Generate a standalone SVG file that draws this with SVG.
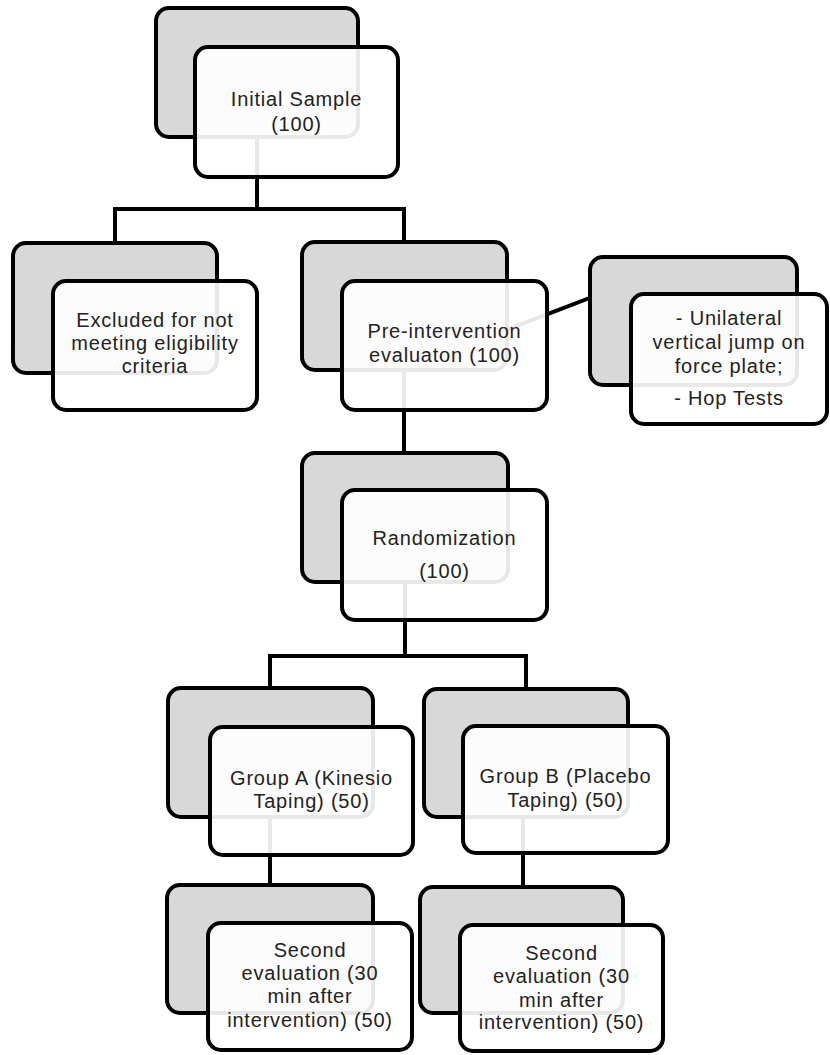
<svg xmlns="http://www.w3.org/2000/svg" width="830" height="1055" viewBox="0 0 830 1055">
<style>
.conn{fill:none;stroke:#000;stroke-width:4;stroke-linejoin:miter}
.back{fill:#d8d8d8;stroke:#000;stroke-width:4}
.front{fill:#fff;fill-opacity:0.91;stroke:#000;stroke-width:4}
text{font-family:"Liberation Sans",Arial,sans-serif;font-size:20px;fill:#222;text-anchor:middle;letter-spacing:0.8px}
</style>
<rect width="830" height="1055" fill="#fff"/>
<g id="connectors">
<path class="conn" d="M257,100 V209 M115,243 V209 H404 V242"/>
<path class="conn" d="M404,300 V453"/>
<path class="conn" d="M405,520 V656 M270,688 V656 H526 V689"/>
<path class="conn" d="M270,760 V885"/>
<path class="conn" d="M523,760 V887"/>
<path class="conn" d="M480,340 L600,294"/>
</g>
<g id="n1">
<rect class="back" x="156" y="8" width="202" height="129" rx="13"/>
<rect class="front" x="195" y="47" width="203" height="130" rx="13"/>
<text x="296.5" y="106">Initial Sample</text>
<text x="296.5" y="131">(100)</text>
</g>
<g id="n2">
<rect class="back" x="13" y="243" width="204" height="130" rx="13"/>
<rect class="front" x="53" y="281" width="204" height="129" rx="13"/>
<text x="155" y="327">Excluded for not</text>
<text x="155" y="350">meeting eligibility</text>
<text x="155" y="373">criteria</text>
</g>
<g id="n3">
<rect class="back" x="302" y="242" width="205" height="128" rx="13"/>
<rect class="front" x="342" y="281" width="205" height="129" rx="13"/>
<text x="444.5" y="338">Pre-intervention</text>
<text x="444.5" y="362">evaluaton (100)</text>
</g>
<g id="n4">
<rect class="back" x="590" y="257" width="207" height="128" rx="13"/>
<rect class="front" x="631" y="294" width="196" height="130" rx="13"/>
<text x="729" y="325">- Unilateral</text>
<text x="729" y="349">vertical jump on</text>
<text x="729" y="373">force plate;</text>
<text x="729" y="405">- Hop Tests</text>
</g>
<g id="n5">
<rect class="back" x="302" y="453" width="206" height="129" rx="13"/>
<rect class="front" x="342" y="490" width="205" height="130" rx="13"/>
<text x="444.5" y="545">Randomization</text>
<text x="444.5" y="578">(100)</text>
</g>
<g id="n6">
<rect class="back" x="168" y="688" width="205" height="129" rx="13"/>
<rect class="front" x="210" y="727" width="203" height="128" rx="13"/>
<text x="311.5" y="785">Group A (Kinesio</text>
<text x="311.5" y="808">Taping) (50)</text>
</g>
<g id="n7">
<rect class="back" x="424" y="689" width="204" height="128" rx="13"/>
<rect class="front" x="463" y="726" width="205" height="127" rx="13"/>
<text x="565.5" y="783">Group B (Placebo</text>
<text x="565.5" y="807">Taping) (50)</text>
</g>
<g id="n8">
<rect class="back" x="167" y="885" width="206" height="128" rx="13"/>
<rect class="front" x="208" y="923" width="204" height="127" rx="13"/>
<text x="310" y="957">Second</text>
<text x="310" y="980">evaluation (30</text>
<text x="310" y="1003">min after</text>
<text x="310" y="1027">intervention) (50)</text>
</g>
<g id="n9">
<rect class="back" x="420" y="887" width="203" height="126" rx="13"/>
<rect class="front" x="460" y="925" width="203" height="126" rx="13"/>
<text x="561.5" y="960">Second</text>
<text x="561.5" y="983">evaluation (30</text>
<text x="561.5" y="1007">min after</text>
<text x="561.5" y="1029">intervention) (50)</text>
</g>
</svg>
